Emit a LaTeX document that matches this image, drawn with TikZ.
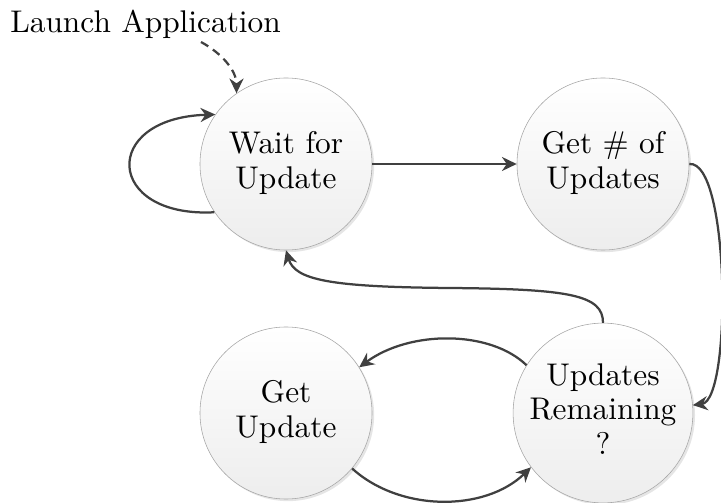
\documentclass[tikz,border=0pt]{standalone}
\usepackage{tikz}
\usepackage{graphicx}
\usetikzlibrary{arrows.meta,shadows}
\definecolor{arrowgray}{HTML}{404040}
\definecolor{rimgray}{HTML}{A6A6A6}
\newcommand{\bigtext}[1]{\scalebox{2.23}{\fontsize{10}{11.1}\selectfont\begin{tabular}{@{}c@{}}#1\end{tabular}}}

\begin{document}
\begin{tikzpicture}[x = 0.025cm, y = -0.025cm,
	state/.style = {circle, draw = rimgray, line width = .4pt, top color = white, bottom color = gray!14, minimum size = 4.3cm, inner sep = 0pt, align = center, drop shadow = {shadow xshift = 1.5pt, shadow yshift = -1.5pt, fill = gray!40, opacity = .5}},
	flow/.style = {draw = arrowgray, line width = 1.6pt, -{Stealth[length = 10.5pt, width = 10pt]}}]
\useasboundingbox (0, 0) rectangle (721, 503);
% States
\node[state] (wait) at (286, 164) {\bigtext{Wait for\\Update}};
\node[state] (count) at (603, 164) {\bigtext{Get \# of\\Updates}};
\node[state] (remain) at (603, 413) {\bigtext{Updates\\Remaining\\?}};
\node[state] (fetch) at (286, 413) {\bigtext{Get\\Update}};
% Start
\node[anchor = base west, inner sep = 0pt] (launch) at (10, 33) {\scalebox{2.23}{Launch Application}};
\draw[flow, dash pattern = on 6pt off 4pt] ([shift = {(191, 9)}]launch.base west) .. controls +(22, 12) and +(0, -22) .. (wait.125);
% Loop on wait
\draw[flow] (wait.214) .. controls (105, 218) and (100, 118) .. (wait.145);
% Wait to count
\draw[flow] (wait) -- (count);
% Count to remaining
\draw[flow] (count.east) .. controls (730, 160) and (732, 400) .. (remain.5);
% Remaining back to wait
\draw[flow] (remain.north) .. controls (603, 295) and (570, 289) .. (450, 288) .. controls (330, 287) and (295, 280) .. (wait.south);
% Remaining and fetch
\draw[flow] (remain.148) .. controls (490, 330) and (410, 330) .. (fetch.32);
\draw[flow] (fetch.-40) .. controls (400, 512) and (485, 512) .. (remain.217);
\end{tikzpicture}
\end{document}
